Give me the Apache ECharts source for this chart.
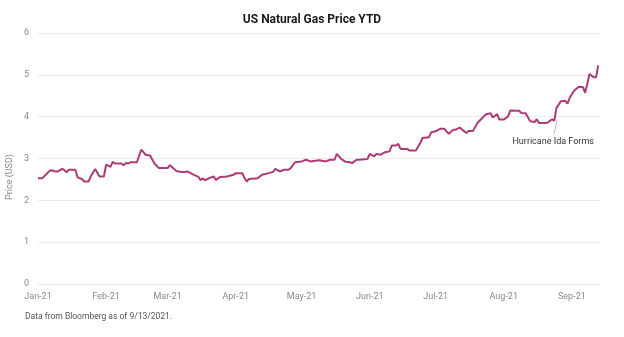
<!DOCTYPE html>
<html>
<head>
<meta charset="utf-8">
<script src="https://cdn.jsdelivr.net/npm/echarts@6/dist/echarts.min.js"></script>
<style>html,body{margin:0;padding:0;background:#fff}#c{width:624px;height:337px}</style>
</head>
<body>
<div id="c"></div>
<script>
// Day offsets from 2021-01-01 and price (USD)
var days = [0,2,5,6,8,9,11,12,13,14,17,18,20,21,23,24,26,28,30,31,32,33,34,35,38,39,40,41,42,45,47,49,51,53,55,59,60,63,64,65,67,68,71,73,74,75,76,78,80,81,83,86,89,90,93,94,95,96,100,102,105,107,108,110,112,114,115,117,120,122,124,127,128,131,133,135,136,138,140,142,143,145,146,150,151,153,154,156,158,160,161,163,164,165,168,169,172,174,175,178,179,181,183,185,187,189,190,192,193,195,196,198,200,203,204,206,207,209,210,212,214,215,218,219,220,222,224,226,227,228,231,232,234,235,236,238,240,241,242,244,246,248,249,250,251,253,254,255];
var prices = [2.53,2.53,2.69,2.72,2.69,2.69,2.75,2.72,2.67,2.73,2.73,2.55,2.51,2.45,2.45,2.57,2.75,2.57,2.57,2.85,2.83,2.80,2.92,2.88,2.88,2.84,2.89,2.88,2.91,2.91,3.21,3.09,3.07,2.88,2.77,2.77,2.84,2.70,2.69,2.68,2.68,2.69,2.61,2.56,2.48,2.53,2.48,2.53,2.57,2.49,2.56,2.57,2.61,2.65,2.65,2.53,2.45,2.51,2.53,2.61,2.65,2.68,2.75,2.69,2.73,2.73,2.77,2.91,2.93,2.97,2.93,2.95,2.96,2.93,2.97,2.97,3.11,2.99,2.92,2.91,2.89,2.97,2.97,2.99,3.11,3.05,3.11,3.09,3.15,3.17,3.31,3.31,3.35,3.23,3.23,3.19,3.19,3.37,3.49,3.51,3.63,3.65,3.71,3.71,3.59,3.69,3.69,3.74,3.69,3.61,3.66,3.66,3.85,4.01,4.06,4.08,3.98,4.06,3.93,3.93,4.01,4.15,4.14,4.14,4.09,4.08,3.89,3.87,3.94,3.85,3.85,3.86,3.94,3.90,4.21,4.37,4.38,4.31,4.45,4.62,4.71,4.71,4.57,4.78,5.02,4.94,4.94,5.23];
// month starts as day offsets from 2021-01-01
var tickDays = [0,31,59,90,120,151,181,212,243];
var tickLabels = ['Jan-21','Feb-21','Mar-21','Apr-21','May-21','Jun-21','Jul-21','Aug-21','Sep-21'];
var yTicks = [0,1,2,3,4,5,6];
var annotationText = 'Hurricane Ida Forms';
var annotationFrom = [236.3, 3.92];
var annotationTo = [234.8, 3.57];

var seriesData = days.map(function(d,i){ return [d, prices[i]]; });

var chart = echarts.init(document.getElementById('c'));
chart.setOption({
  backgroundColor:'#fff',
  animation:false,
  textStyle:{fontFamily:'Roboto'},
  title:{text:'US Natural Gas Price YTD',left:'center',top:9,
    textStyle:{fontSize:12,fontWeight:'bold',color:'#1a1a1a',fontFamily:'Roboto'}},
  grid:{left:38,right:24,top:33,bottom:53},
  xAxis:{type:'value',min:0,max:255.8,
    axisLine:{show:false},axisTick:{show:false},splitLine:{show:false},
    axisLabel:{customValues:tickDays,color:'#8a8a8a',fontSize:9,margin:8,
      formatter:function(v){ var i=tickDays.indexOf(Math.round(v)); return i<0?'':tickLabels[i]; }}
  },
  yAxis:{type:'value',min:0,max:6,interval:1,
    axisLine:{show:false},axisTick:{show:false},
    axisLabel:{color:'#8a8a8a',fontSize:9,margin:9,formatter:function(v){return yTicks.indexOf(v)>=0?String(v):'';}},
    splitLine:{lineStyle:{color:'#ebebeb',width:1}}
  },
  graphic:[
    {type:'text',left:5,top:154,rotation:Math.PI/2,style:{text:'Price (USD)',fill:'#8a8a8a',font:'9px Roboto'}},
    {type:'text',left:25,top:312,style:{text:'Data from Bloomberg as of 9/13/2021.',fill:'#555',font:'8.5px Roboto'}}
  ],
  series:[{type:'line',data:seriesData,showSymbol:false,symbol:'none',
    lineStyle:{color:'#ad3b77',width:2},itemStyle:{color:'#ad3b77'},
    markLine:{silent:true,symbol:'none',
      lineStyle:{color:'#bbbbbb',width:1,type:'solid'},
      label:{show:true,position:'end',formatter:annotationText,color:'#333',fontSize:9,distance:3},
      data:[[{coord:annotationFrom},{coord:annotationTo}]]
    }
  }]
});
</script>
</body>
</html>
